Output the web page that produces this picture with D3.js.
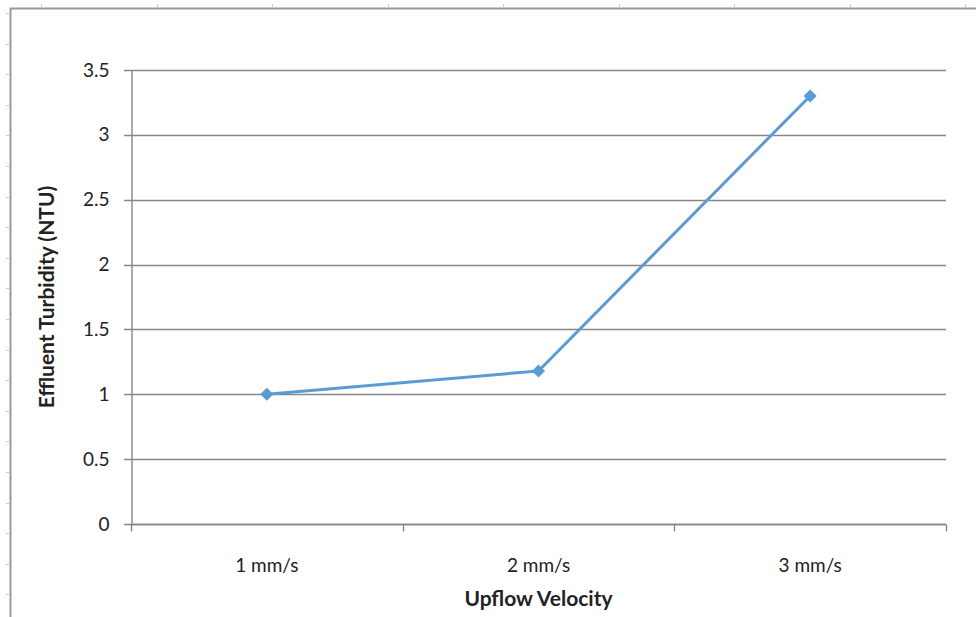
<!DOCTYPE html>
<html>
<head>
<meta charset="utf-8">
<script src="https://cdn.jsdelivr.net/npm/d3@7"></script>
<style>
  html, body { margin: 0; padding: 0; background: #fff; }
  svg { display: block; }
  text { font-family: Lato, "Open Sans", sans-serif; fill: #222; }
</style>
</head>
<body>
<svg id="chart" width="976" height="617"></svg>
<script>
// Upflow velocity categories and measured effluent turbidity
const categories = ["1 mm/s", "2 mm/s", "3 mm/s"];
const turbidity = [1.0, 1.18, 3.3];
const yTicks = [0, 0.5, 1, 1.5, 2, 2.5, 3, 3.5];
const xTitle = "Upflow Velocity";
const yTitle = "Effluent Turbidity (NTU)";

const svg = d3.select("#chart");
const W = 976, H = 617;
const plot = { left: 131, right: 946, top: 70, bottom: 524 };

// Outer frame with light ruler ticks along the top and left edge
const frame = svg.append("g");
frame.append("path")
  .attr("d", `M10.5,${H} V8.5 H${W}`)
  .attr("fill", "none").attr("stroke", "#9a9a9a").attr("stroke-width", 2);
const rulerTop = d3.range(41, W, 115.5);
frame.selectAll(".rt").data(rulerTop).join("line")
  .attr("x1", d => Math.round(d) + 0.5).attr("x2", d => Math.round(d) + 0.5)
  .attr("y1", 4).attr("y2", 7)
  .attr("stroke", "#c8cbd6").attr("stroke-width", 1);
const rulerLeft = d3.range(13, H, 30.6);
frame.selectAll(".rl").data(rulerLeft).join("line")
  .attr("x1", 6).attr("x2", 9)
  .attr("y1", d => Math.round(d) + 0.5).attr("y2", d => Math.round(d) + 0.5)
  .attr("stroke", "#c8cbd6").attr("stroke-width", 1);

const x = d3.scaleBand().domain(categories).range([plot.left, plot.right]);
const y = d3.scaleLinear().domain([0, 3.5]).range([plot.bottom, plot.top]);

// Horizontal gridlines
svg.append("g").selectAll("line").data(yTicks).join("line")
  .attr("x1", plot.left - 7).attr("x2", plot.right)
  .attr("y1", d => Math.round(y(d)) + 0.5).attr("y2", d => Math.round(y(d)) + 0.5)
  .attr("stroke", "#868686").attr("stroke-width", 1.4);

// Y axis
const yAxis = svg.append("g")
  .attr("transform", `translate(${plot.left + 0.5},0)`)
  .call(d3.axisLeft(y).tickValues(yTicks).tickSize(0).tickPadding(22)
    .tickFormat(d => String(d)));
yAxis.select(".domain").attr("stroke", "#868686").attr("stroke-width", 1.4);
yAxis.selectAll("text").attr("font-size", 19).attr("fill", "#222")
  .attr("font-family", "Lato, 'Open Sans', sans-serif");

// X axis with boundary tick marks between categories
const xAxis = svg.append("g")
  .attr("transform", `translate(0,${Math.round(y(0)) + 0.5})`);
xAxis.append("line")
  .attr("x1", plot.left).attr("x2", plot.right)
  .attr("stroke", "#868686").attr("stroke-width", 1.4);
const bounds = categories.map(c => x(c)).concat([x(categories[categories.length - 1]) + x.bandwidth()]);
xAxis.selectAll(".xt").data(bounds).join("line")
  .attr("x1", d => Math.round(d) + 0.5).attr("x2", d => Math.round(d) + 0.5)
  .attr("y1", 0).attr("y2", 7)
  .attr("stroke", "#868686").attr("stroke-width", 1.4);
xAxis.selectAll(".xl").data(categories).join("text")
  .attr("x", d => x(d) + x.bandwidth() / 2)
  .attr("y", 47)
  .attr("text-anchor", "middle")
  .attr("font-size", 19)
  .text(d => d);

// Axis titles
svg.append("text")
  .attr("x", x(categories[1]) + x.bandwidth() / 2)
  .attr("y", 606)
  .attr("text-anchor", "middle")
  .attr("font-size", 21).attr("font-weight", "bold")
  .text(xTitle);
svg.append("text")
  .attr("transform", `translate(54,${(plot.top + plot.bottom) / 2}) rotate(-90)`)
  .attr("text-anchor", "middle")
  .attr("font-size", 21).attr("font-weight", "bold")
  .text(yTitle);

// Series line and diamond markers
const pts = categories.map((c, i) => [x(c) + x.bandwidth() / 2, y(turbidity[i])]);
svg.append("path")
  .attr("d", d3.line()(pts))
  .attr("fill", "none").attr("stroke", "#5b9bd5").attr("stroke-width", 3)
  .attr("stroke-linejoin", "round");
svg.append("g").selectAll("path").data(pts).join("path")
  .attr("transform", d => `translate(${d[0]},${d[1]}) rotate(45)`)
  .attr("d", d3.symbol().type(d3.symbolSquare).size(85))
  .attr("fill", "#5b9bd5");
</script>
</body>
</html>
